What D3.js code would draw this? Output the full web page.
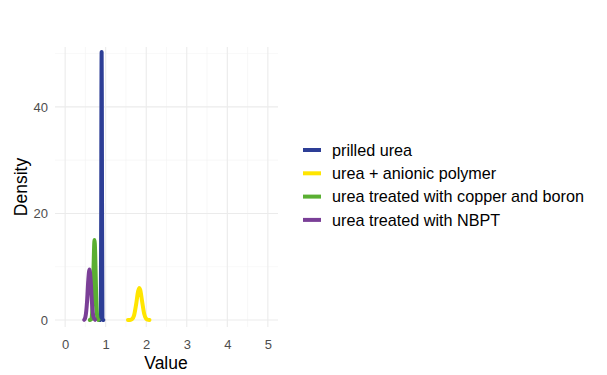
<!DOCTYPE html>
<html><head><meta charset="utf-8">
<script src="https://cdn.jsdelivr.net/npm/d3@7"></script>
<style>body{margin:0;background:#fff;} text{font-family:"Liberation Sans",Arial,sans-serif;}</style>
</head><body><svg id="c" width="607" height="375"></svg>
<script>
const seriesNames = ["prilled urea","urea + anionic polymer","urea treated with copper and boron","urea treated with NBPT"];
const seriesColors = ["#2D3E96","#FFE500","#5AAF32","#7A3F97"];
// density curves (x values and density values)
const prilledX = [0.86,0.88,0.89,0.895,0.90,0.905,0.91,0.92,0.94];
const prilledY = [0,0.3,22,42,50.3,42,22,0.3,0];
const anionicX = [1.55,1.60,1.65,1.70,1.75,1.80,1.83,1.85,1.90,1.95,2.00,2.05,2.08];
const anionicY = [0,0.02,0.15,0.87,2.9,5.4,6.0,5.7,3.4,1.15,0.22,0.02,0];
const copperX = [0.61,0.64,0.66,0.68,0.70,0.72,0.725,0.74,0.76,0.78,0.80,0.82];
const copperY = [0,0.09,0.76,3.6,9.6,14.7,15.0,12.8,6.3,1.8,0.28,0.03];
const nbptX = [0.47,0.50,0.54,0.57,0.60,0.63,0.66,0.70,0.74];
const nbptY = [0.04,0.56,3.4,7.4,9.5,7.4,3.4,0.56,0.04];
const xTicks = [0,1,2,3,4,5];
const yTicks = [0,20,40];

const seriesX = [prilledX, anionicX, copperX, nbptX];
const seriesY = [prilledY, anionicY, copperY, nbptY];

const svg = d3.select("#c");
const L = 55, R = 278, T = 47, B = 327;
const x = d3.scaleLinear().domain([-0.25,5.25]).range([L,R]);
const y = d3.scaleLinear().domain([0,50.3]).range([320,52]);

const g = svg.append("g");
const minorX = [0.5,1.5,2.5,3.5,4.5];
const minorY = [10,30,50];
g.selectAll(".mx").data(minorX).enter().append("line")
 .attr("x1",d=>x(d)).attr("x2",d=>x(d)).attr("y1",T).attr("y2",B)
 .attr("stroke","#f3f3f3").attr("stroke-width",0.6);
g.selectAll(".my").data(minorY).enter().append("line")
 .attr("y1",d=>y(d)).attr("y2",d=>y(d)).attr("x1",L).attr("x2",R)
 .attr("stroke","#f3f3f3").attr("stroke-width",0.6);
g.selectAll(".gx").data(xTicks).enter().append("line")
 .attr("x1",d=>x(d)).attr("x2",d=>x(d)).attr("y1",T).attr("y2",B)
 .attr("stroke","#ebebeb").attr("stroke-width",1.1);
g.selectAll(".gy").data(yTicks).enter().append("line")
 .attr("y1",d=>y(d)).attr("y2",d=>y(d)).attr("x1",L).attr("x2",R)
 .attr("stroke","#ebebeb").attr("stroke-width",1.1);

const xAxis = d3.axisBottom(x).tickValues(xTicks).tickFormat(d3.format("d")).tickSize(0).tickPadding(0);
const ax = svg.append("g").attr("transform",`translate(0,${B+13})`).call(xAxis);
ax.select(".domain").remove();
ax.selectAll("text").attr("fill","#4d4d4d").style("font-size","13px").attr("dy","0.71em");
const yAxis = d3.axisLeft(y).tickValues(yTicks).tickFormat(d3.format("d")).tickSize(0).tickPadding(0);
const ay = svg.append("g").attr("transform",`translate(48,0)`).call(yAxis);
ay.select(".domain").remove();
ay.selectAll("text").attr("fill","#4d4d4d").style("font-size","13px");

const line = d3.line().x(d=>x(d[0])).y(d=>y(d[1])).curve(d3.curveMonotoneX);
seriesNames.forEach((n,i)=>{
  const pts = seriesX[i].map((v,j)=>[v, seriesY[i][j]]);
  svg.append("path").attr("d",line(pts)).attr("fill","none")
    .attr("stroke",seriesColors[i]).attr("stroke-width",4)
    .attr("stroke-linejoin","round").attr("stroke-linecap","round");
});

svg.append("text").attr("x",166).attr("y",369).attr("text-anchor","middle")
  .style("font-size","17.5px").attr("fill","#000").text("Value");
svg.append("text").attr("transform","translate(27,187) rotate(-90)").attr("text-anchor","middle")
  .style("font-size","17.5px").attr("fill","#000").text("Density");

const lg = svg.append("g");
seriesNames.forEach((n,i)=>{
  const yy = 150 + i*23.3;
  lg.append("line").attr("x1",303).attr("x2",321).attr("y1",yy).attr("y2",yy)
    .attr("stroke",seriesColors[i]).attr("stroke-width",4);
  lg.append("text").attr("x",332).attr("y",yy).attr("dy","0.35em")
    .style("font-size","16.2px").attr("fill","#000").text(n);
});
</script></body></html>
